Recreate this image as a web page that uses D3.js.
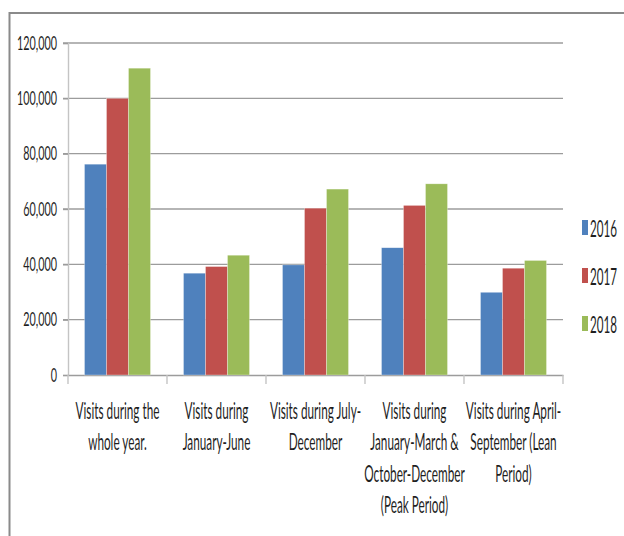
<!DOCTYPE html>
<html>
<head>
<meta charset="utf-8">
<script src="https://cdn.jsdelivr.net/npm/d3@7"></script>
<style>
  body { margin: 0; background: #fff; }
  text { font-family: Lato, "Open Sans", sans-serif; fill: #1f1f1f; }
</style>
</head>
<body>
<div id="chart"></div>
<script>
// Visits by period, 2016-2018
const categories = ["whole", "janjun", "juldec", "peak", "lean"];
const categoryLines = [
  ["Visits during the", "whole year."],
  ["Visits during", "January-June"],
  ["Visits during July-", "December"],
  ["Visits during", "January-March &", "October-December", "(Peak Period)"],
  ["Visits during April-", "September (Lean", "Period)"]
];
const years = ["2016", "2017", "2018"];
const values2016 = [76200, 36800, 39800, 46000, 29900];
const values2017 = [100000, 39200, 60300, 61300, 38600];
const values2018 = [110900, 43300, 67200, 69100, 41400];
const yTicks = [0, 20000, 40000, 60000, 80000, 100000, 120000];
const colors = ["#4f81bd", "#c0504d", "#9bbb59"];

const W = 624, H = 536;
const plot = { left: 68, right: 563, top: 43, bottom: 375 };

const svg = d3.select("#chart").append("svg")
  .attr("width", W).attr("height", H);

// outer frame (top + left edge visible)
svg.append("path")
  .attr("d", `M9.5,${H} V13 H${W}`)
  .attr("fill", "none")
  .attr("stroke", "#8a8a8a")
  .attr("stroke-width", 2);

const x = d3.scaleBand().domain(categories).range([plot.left, plot.right]);
const x1 = d3.scaleBand().domain(years).range([0, x.bandwidth()]).paddingOuter(0.75);
const y = d3.scaleLinear().domain([0, 120000]).range([plot.bottom, plot.top]);
const color = d3.scaleOrdinal().domain(years).range(colors);

// helper: squeeze text horizontally so a sample string takes a given width
function squeezeFactor(sample, size, target) {
  const t = svg.append("text").style("font-size", size + "px").text(sample);
  const w = t.node().getComputedTextLength();
  t.remove();
  return target / w;
}

// gridlines
svg.append("g").selectAll("line")
  .data(yTicks.filter(d => d > 0))
  .join("line")
  .attr("x1", plot.left - 5).attr("x2", plot.right)
  .attr("y1", d => y(d)).attr("y2", d => y(d))
  .attr("stroke", "#9c9c9c").attr("stroke-width", 1.4);

// y axis
const yAxis = svg.append("g")
  .attr("transform", `translate(${plot.left},0)`)
  .call(d3.axisLeft(y).tickValues(yTicks).tickSize(5).tickPadding(6).tickFormat(d3.format(",")));
yAxis.select(".domain").attr("stroke", "#c4c4c4").attr("stroke-width", 1.4);
yAxis.selectAll(".tick line").attr("stroke", "#9c9c9c").attr("stroke-width", 1.4);
const sy = squeezeFactor("120,000", 19, 40);
yAxis.selectAll(".tick text")
  .style("font-size", "19px")
  .attr("fill", "#1f1f1f")
  .attr("x", -11 / sy)
  .attr("transform", `scale(${sy},1)`);

// x axis
const xAxis = svg.append("g")
  .attr("transform", `translate(0,${plot.bottom})`)
  .call(d3.axisBottom(x).tickSize(0).tickFormat(""));
xAxis.select(".domain").attr("stroke", "#9c9c9c").attr("stroke-width", 1.4);
xAxis.selectAll(".tick").remove();
const boundaries = categories.map(c => x(c)).concat([plot.right]);
xAxis.selectAll("line.bound")
  .data(boundaries)
  .join("line")
  .attr("class", "bound")
  .attr("x1", d => d).attr("x2", d => d)
  .attr("y1", 0).attr("y2", 9)
  .attr("stroke", "#c4c4c4").attr("stroke-width", 1.4);

// bars
const series = years.map((yr, i) => ({
  year: yr,
  values: [values2016, values2017, values2018][i]
}));
svg.append("g").selectAll("g")
  .data(categories)
  .join("g")
  .attr("transform", c => `translate(${x(c)},0)`)
  .selectAll("rect")
  .data((c, ci) => series.map(s => ({ year: s.year, value: s.values[ci] })))
  .join("rect")
  .attr("x", d => x1(d.year))
  .attr("width", x1.bandwidth())
  .attr("y", d => y(d.value))
  .attr("height", d => y(0) - y(d.value))
  .attr("fill", d => color(d.year))
  .attr("stroke", "rgba(255,255,255,0.5)")
  .attr("stroke-width", 0.6);

// category labels
const sx = squeezeFactor("Visits during the", 23, 84);
const labelG = svg.append("g");
categories.forEach((c, ci) => {
  const cx = x(c) + x.bandwidth() / 2;
  const t = labelG.append("text")
    .attr("transform", `translate(${cx},0) scale(${sx},1)`)
    .attr("text-anchor", "middle")
    .style("font-size", "23px");
  t.selectAll("tspan")
    .data(categoryLines[ci])
    .join("tspan")
    .attr("x", 0)
    .attr("y", (d, i) => 419 + i * 31.5)
    .text(d => d);
});

// legend
const sl = squeezeFactor("2016", 24, 27);
const legend = svg.append("g").selectAll("g")
  .data(years)
  .join("g")
  .attr("transform", (d, i) => `translate(582,${228 + i * 48})`);
legend.append("rect")
  .attr("x", 0).attr("y", -8)
  .attr("width", 6).attr("height", 15)
  .attr("fill", d => color(d));
legend.append("text")
  .attr("transform", `translate(8,0) scale(${sl},1)`)
  .attr("dy", "0.36em")
  .style("font-size", "24px")
  .text(d => d);
</script>
</body>
</html>
